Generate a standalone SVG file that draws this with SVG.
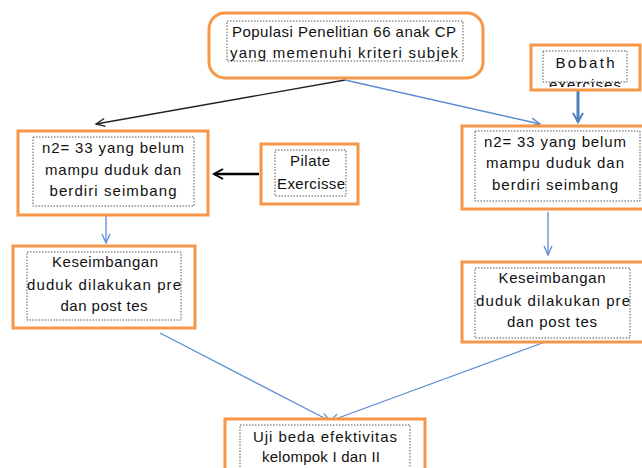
<svg xmlns="http://www.w3.org/2000/svg" width="642" height="468" viewBox="0 0 642 468">
<style>
.box{fill:#fff;stroke:#f79646;stroke-width:3}
.inner{fill:none;stroke:#555;stroke-width:1;stroke-dasharray:1.5 1.5}
text{font-family:"Liberation Sans",Arial,sans-serif;font-size:15px;fill:#111;text-anchor:middle}
.blk{stroke:#222;stroke-width:1.3;fill:none}
.blu{stroke:#5b8bd0;stroke-width:1.3;fill:none}
</style>
<defs>
<marker id="ab" markerWidth="12" markerHeight="10" refX="10" refY="5" orient="auto" markerUnits="userSpaceOnUse"><path d="M1,1 L10,5 L1,9" fill="none" stroke="#222" stroke-width="1.3"/></marker>
<marker id="au" markerWidth="12" markerHeight="10" refX="10" refY="5" orient="auto" markerUnits="userSpaceOnUse"><path d="M1,1 L10,5 L1,9" fill="none" stroke="#5b8bd0" stroke-width="1.3"/></marker>
<marker id="auf" markerWidth="12" markerHeight="12" refX="10" refY="6" orient="auto" markerUnits="userSpaceOnUse"><path d="M1,1 L10,6 L1,11" fill="none" stroke="#4f81bd" stroke-width="2"/></marker>
<marker id="abf" markerWidth="12" markerHeight="12" refX="10" refY="6" orient="auto" markerUnits="userSpaceOnUse"><path d="M1,1 L10,6 L1,11" fill="none" stroke="#000" stroke-width="2"/></marker>
<clipPath id="bclip"><rect x="543" y="50" width="86" height="37"/></clipPath>
</defs>
<rect width="642" height="468" fill="#fff"/>
<g id="connectors">
<line class="blk" x1="345" y1="80" x2="96" y2="124" marker-end="url(#ab)"/>
<line class="blu" x1="345" y1="80" x2="540" y2="124" marker-end="url(#au)"/>
<line x1="578" y1="91" x2="578" y2="122" stroke="#4f81bd" stroke-width="3" marker-end="url(#auf)"/>
<line x1="259" y1="174" x2="214" y2="174" stroke="#000" stroke-width="2.5" marker-end="url(#abf)"/>
<line class="blu" x1="106" y1="216" x2="106" y2="243" marker-end="url(#au)"/>
<line class="blu" x1="548" y1="212" x2="548" y2="255" marker-end="url(#au)"/>
<line class="blu" x1="160" y1="333" x2="330" y2="421" marker-end="url(#au)"/>
<line class="blu" x1="545" y1="342" x2="330" y2="421" marker-end="url(#au)"/>
</g>
<g id="populasi">
<rect class="box" x="209" y="13" width="274" height="65" rx="16"/>
<rect class="inner" x="227" y="21" width="236" height="40"/>
<text x="344" y="37" textLength="224" lengthAdjust="spacing">Populasi Penelitian 66 anak CP</text>
<text x="344" y="58" textLength="228" lengthAdjust="spacing">yang memenuhi kriteri subjek</text>
</g>
<g id="bobath">
<rect class="box" x="531" y="45" width="109" height="45"/>
<rect class="inner" x="543" y="51" width="84" height="31"/>
<text x="585" y="68" textLength="59" lengthAdjust="spacing">Bobath</text>
<g clip-path="url(#bclip)"><text x="585" y="90" textLength="72" lengthAdjust="spacing">exercises</text></g>
</g>
<g id="kelompok1">
<rect class="box" x="18" y="131" width="190" height="84"/>
<rect class="inner" x="33" y="137" width="161" height="69"/>
<text x="113" y="153" textLength="142" lengthAdjust="spacing">n2= 33 yang belum</text>
<text x="113" y="175" textLength="136" lengthAdjust="spacing">mampu duduk dan</text>
<text x="113" y="196" textLength="127" lengthAdjust="spacing">berdiri seimbang</text>
</g>
<g id="pilate">
<rect class="box" x="261" y="144" width="97" height="60"/>
<rect class="inner" x="275" y="150" width="71" height="46"/>
<text x="310" y="166" textLength="40" lengthAdjust="spacing">Pilate</text>
<text x="311" y="189" textLength="68" lengthAdjust="spacing">Exercisse</text>
</g>
<g id="kelompok2">
<rect class="box" x="462" y="126" width="182" height="83"/>
<rect class="inner" x="475" y="131" width="165" height="70"/>
<text x="555" y="147" textLength="142" lengthAdjust="spacing">n2= 33 yang belum</text>
<text x="555" y="168" textLength="138" lengthAdjust="spacing">mampu duduk dan</text>
<text x="555" y="190" textLength="126" lengthAdjust="spacing">berdiri seimbang</text>
</g>
<g id="keseimbangan1">
<rect class="box" x="13" y="246" width="182" height="82"/>
<rect class="inner" x="27" y="252" width="154" height="68"/>
<text x="105" y="267" textLength="106" lengthAdjust="spacing">Keseimbangan</text>
<text x="104" y="290" textLength="154" lengthAdjust="spacing">duduk  dilakukan pre</text>
<text x="104" y="311" textLength="87" lengthAdjust="spacing">dan post tes</text>
</g>
<g id="keseimbangan2">
<rect class="box" x="462" y="262" width="182" height="80"/>
<rect class="inner" x="475" y="268" width="155" height="70"/>
<text x="552" y="283" textLength="107" lengthAdjust="spacing">Keseimbangan</text>
<text x="553" y="306" textLength="154" lengthAdjust="spacing">duduk  dilakukan pre</text>
<text x="552" y="327" textLength="90" lengthAdjust="spacing">dan post tes</text>
</g>
<g id="uji">
<rect class="box" x="225" y="419" width="200" height="52"/>
<rect class="inner" x="240" y="425" width="170" height="46"/>
<text x="325" y="442" textLength="144" lengthAdjust="spacing">Uji beda efektivitas</text>
<text x="321" y="462" textLength="118" lengthAdjust="spacing">kelompok I dan II</text>
</g>
</svg>
